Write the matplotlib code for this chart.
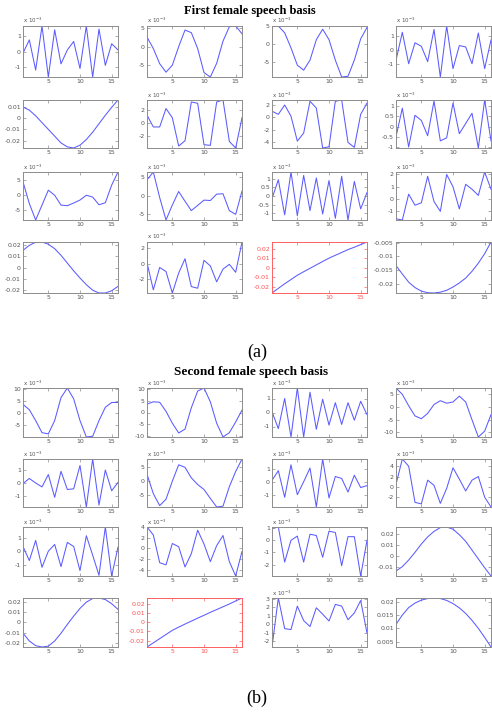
import matplotlib.pyplot as plt
from matplotlib.ticker import MultipleLocator, FuncFormatter

x = list(range(1, 17))

# (a) first female speech basis, values as read on each axis
a01 = [-0.1, 0.75, -1.2, 1.65, -1.65, 1.4, -0.8, 0.1, 0.65, -1.1, 1.65, -1.65, 1.45, -0.9, 0.5, 0.1]
a02 = [2.6, -0.5, -4.6, -6.9, -5.0, 0.0, 4.5, 3.8, -0.5, -7.0, -8.2, -4.5, 1.5, 5.4, 5.6, 3.5]
a03 = [4.9, 5.0, 3.1, -1.1, -5.9, -7.3, -4.5, 1.2, 4.1, 1.2, -4.5, -9.2, -9.0, -4.5, 1.4, 4.6]
a04 = [-0.75, 1.25, -1.0, 0.5, 0.25, -0.85, 1.45, -1.95, 1.7, -1.35, 0.3, 0.2, -1.0, 1.2, -1.35, 0.7]
a05 = [0.0098, 0.007, 0.002, -0.004, -0.010, -0.016, -0.022, -0.0255, -0.0265, -0.024, -0.019,
       -0.0125, -0.005, 0.0025, 0.0095, 0.016]
a06 = [1.2, -0.6, -0.6, 2.2, 0.8, -3.5, -2.7, 3.2, 3.0, -3.3, -3.4, 3.2, 3.5, -2.8, -3.8, 0.8]
a07 = [1.0, 0.5, 2.0, 0.2, -3.8, -2.5, 2.6, 1.5, -4.9, -4.7, 2.6, 2.8, -4.0, -4.8, 0.5, 2.3]
a08 = [-0.5, 0.9, -1.0, 0.55, 0.3, -0.45, 1.25, -0.7, -0.55, 1.15, -0.35, 0.15, 0.65, -1.05, 1.3, -0.7]
a09 = [4.3, -3.0, -8.5, -3.5, 1.5, -0.2, -3.5, -3.7, -2.8, -1.8, -0.2, -0.8, -3.4, -2.7, 3.2, 7.6]
a10 = [4.2, 6.3, -0.5, -6.5, -2.5, 1.1, -1.5, -4.0, -2.6, -1.2, -1.3, 0.4, 0.5, -4.0, -5.0, 1.2]
a11 = [-0.15, 0.95, -1.1, 1.4, -1.15, 1.2, -0.85, 1.05, -1.05, 0.9, -1.3, 1.15, -1.4, 0.85, -0.75, 0.2]
a12 = [-1.6, -1.7, 0.4, -0.5, -0.3, 1.85, -0.2, -1.0, 2.0, 1.0, -0.8, 1.2, 0.8, 0.3, 2.2, 0.8]
a13 = [0.0155, 0.02, 0.0228, 0.023, 0.021, 0.017, 0.011, 0.004, -0.003, -0.0095, -0.0155,
       -0.0205, -0.023, -0.023, -0.021, -0.017]
a14 = [0.1, -3.3, -0.5, -1.0, -3.7, -1.2, 0.6, -2.9, -3.1, 0.4, -0.3, -2.3, -0.7, -0.1, -1.1, 2.7]
a15 = [-0.0267, -0.0218, -0.017, -0.0125, -0.008, -0.0043, -0.0007, 0.0029, 0.0065, 0.010,
       0.013, 0.016, 0.019, 0.0215, 0.0243, 0.027]
a16 = [-0.0134, -0.0165, -0.0195, -0.0215, -0.0228, -0.0234, -0.0235, -0.0232, -0.0225,
       -0.0213, -0.0198, -0.018, -0.0155, -0.0125, -0.009, -0.0047]

# (b) second female speech basis
b01 = [3.7, 1.5, -3.0, -8.0, -8.5, -3.0, 6.5, 10.5, 6.0, -3.0, -9.8, -9.5, -3.0, 2.5, 4.5, 4.5]
b02 = [3.5, 4.5, 4.3, 0.5, -4.5, -8.6, -7.0, 2.0, 9.0, 10.3, 4.5, -4.5, -10.3, -8.5, -4.0, 1.0]
b03 = [0.05, -1.15, 1.0, -1.75, 1.75, -1.75, 1.45, -1.2, 0.95, -0.9, 0.7, -0.85, 0.7, -0.55, 0.8, -0.15]
b04 = [7.5, 5.0, 0.5, -3.5, -4.6, -2.5, 1.0, 2.5, 1.5, 2.0, 4.3, 2.0, -5.0, -11.8, -9.5, -3.0]
b05 = [-0.05, 0.35, 0.0, -0.3, 0.65, -1.1, 0.9, -0.5, -0.45, 1.35, -1.85, 1.85, -1.7, 1.0, -0.6, 0.05]
b06 = [2.5, -4.5, -8.8, -6.5, 0.0, 5.9, 5.0, 1.2, -1.2, -3.0, -6.2, -9.3, -9.0, -2.0, 3.5, 8.0]
b07 = [0.1, 0.85, -1.2, 1.3, -1.0, 0.0, 1.05, -1.95, 1.75, -1.25, 0.4, 0.25, -0.8, 0.5, -0.45, -0.3]
b08 = [0.5, 5.4, 4.0, -3.0, -3.3, 1.3, 0.3, -3.2, -0.3, 3.7, 1.5, -0.8, 1.3, 2.0, -2.0, -3.9]
b09 = [0.35, -0.7, 0.8, -1.2, 0.0, 0.5, -1.15, 0.65, 0.35, -1.45, 1.15, -0.3, -1.8, 1.8, -1.85, 0.3]
b10 = [4.0, 2.5, -2.7, -3.1, 0.9, 0.3, -3.5, -1.0, 3.4, 0.8, -2.5, 0.5, 2.4, -2.5, -5.2, -0.6]
b11 = [1.0, 1.1, -1.8, 0.0, 0.35, -1.8, 0.5, 0.4, -1.4, 0.75, 0.65, -2.1, 0.3, 0.3, -2.95, 0.0]
b12 = [-0.014, -0.01, -0.004, 0.003, 0.0105, 0.017, 0.022, 0.0255, 0.026, 0.024, 0.019, 0.013,
       0.005, -0.003, -0.011, -0.0185]
b13 = [-0.0105, -0.018, -0.0225, -0.0238, -0.023, -0.018, -0.0105, -0.002, 0.006, 0.0135,
       0.0195, 0.023, 0.0235, 0.022, 0.018, 0.0125]
b14 = [-0.027, -0.0225, -0.018, -0.0135, -0.009, -0.0055, -0.0022, 0.001, 0.0042, 0.0073,
       0.0105, 0.0135, 0.0165, 0.0195, 0.0228, 0.026]
b15 = [-2.65, 3.1, -0.5, -0.6, 2.15, 0.45, -0.25, 1.95, 1.2, 0.4, 2.35, 2.15, 0.55, 1.35, 2.8, -1.0]
b16 = [0.0115, 0.015, 0.0178, 0.0195, 0.0206, 0.0212, 0.0214, 0.0212, 0.0205, 0.0193, 0.0177,
       0.0156, 0.013, 0.010, 0.0066, 0.003]

a_vectors = [a01, a02, a03, a04, a05, a06, a07, a08, a09, a10, a11, a12, a13, a14, a15, a16]
b_vectors = [b01, b02, b03, b04, b05, b06, b07, b08, b09, b10, b11, b12, b13, b14, b15, b16]

# y tick spacing of each subplot and whether it carries the "x 10^-3" factor
a_step = [1, 5, 5, 1, 0.01, 2, 2, 0.5, 5, 5, 0.5, 1, 0.01, 2, 0.01, 0.005]
b_step = [5, 5, 1, 5, 1, 5, 1, 2, 1, 2, 1, 0.01, 0.01, 0.01, 1, 0.005]
a_scaled = [1, 1, 1, 1, 0, 1, 1, 1, 1, 1, 1, 1, 0, 1, 0, 0]
b_scaled = [1, 1, 1, 1, 1, 1, 1, 1, 1, 1, 1, 0, 0, 0, 1, 0]
a_red = 15
b_red = 14

W, H = 492, 713
cols = [(23, 118), (147, 242), (272, 367), (396, 491)]
rows_a = [(26, 77), (100, 148), (172, 220), (242, 293)]
rows_b = [(388, 437), (459, 507), (527, 576), (598, 647)]

fig = plt.figure(figsize=(W / 100, H / 100), dpi=100)


def fmt(v, pos):
    return '%g' % round(v, 6)


def draw(rows, vectors, steps, scaled, red):
    for k in range(16):
        r, c = divmod(k, 4)
        x0, x1 = cols[c]
        y0, y1 = rows[r]
        ax = fig.add_axes([x0 / W, 1 - y1 / H, (x1 - x0) / W, (y1 - y0) / H])
        y = vectors[k]
        ax.plot(x, y, color='#5b5bff', lw=0.75)
        ax.set_xlim(1, 16)
        ax.set_ylim(min(y), max(y))
        ax.set_xticks([5, 10, 15])
        ax.yaxis.set_major_locator(MultipleLocator(steps[k]))
        ax.xaxis.set_major_formatter(FuncFormatter(fmt))
        ax.yaxis.set_major_formatter(FuncFormatter(fmt))
        col = '#ff6060' if k + 1 == red else '#8c8c8c'
        txt = '#ff5050' if k + 1 == red else '#555555'
        ax.tick_params(direction='in', length=2, width=0.5, labelsize=4.5, pad=1.5,
                       top=True, right=True, color=col, labelcolor=txt)
        for s in ax.spines.values():
            s.set_color(col)
            s.set_linewidth(0.7)
        if scaled[k]:
            ax.text(0, 1.01, 'x 10$^{-3}$', transform=ax.transAxes, fontsize=4,
                    color='#555555', ha='left', va='bottom')


draw(rows_a, a_vectors, a_step, a_scaled, a_red)
draw(rows_b, b_vectors, b_step, b_scaled, b_red)

fig.text(250 / W, 1 - 11 / H, 'First female speech basis', family='Liberation Serif',
         weight='bold', fontsize=9, ha='center', va='center')
fig.text(251 / W, 1 - 372 / H, 'Second female speech basis', family='Liberation Serif',
         weight='bold', fontsize=9.5, ha='center', va='center')
fig.text(257 / W, 1 - 352 / H, '(a)', family='Liberation Serif', fontsize=13,
         ha='center', va='center')
fig.text(257 / W, 1 - 698 / H, '(b)', family='Liberation Serif', fontsize=13,
         ha='center', va='center')

fig.savefig('out.png', dpi=100)
